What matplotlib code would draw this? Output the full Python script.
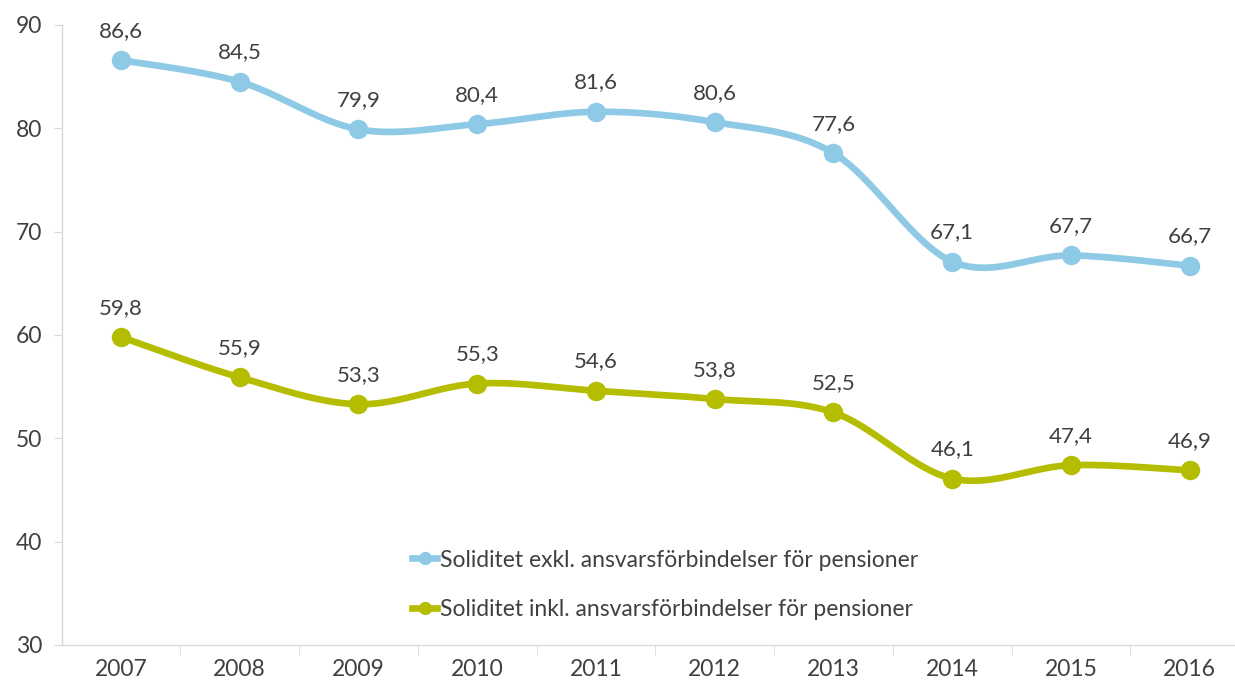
import matplotlib.pyplot as plt
import numpy as np

years = ["2007", "2008", "2009", "2010", "2011", "2012", "2013", "2014", "2015", "2016"]
exkl = [86.6, 84.5, 79.9, 80.4, 81.6, 80.6, 77.6, 67.1, 67.7, 66.7]
inkl = [59.8, 55.9, 53.3, 55.3, 54.6, 53.8, 52.5, 46.1, 47.4, 46.9]
label_exkl = "Soliditet exkl. ansvarsförbindelser för pensioner"
label_inkl = "Soliditet inkl. ansvarsförbindelser för pensioner"

BLUE = "#8ecae6"
GREEN = "#b5bd00"
TEXT = "#404040"
GRID = "#d9d9d9"

plt.rcParams["font.family"] = ["Lato", "DejaVu Sans"]


def smooth(x, y, n=40):
    # Excel-like smoothing: cubic Bezier with Catmull-Rom control points
    x = np.asarray(x, float)
    y = np.asarray(y, float)
    px = np.concatenate([[x[0]], x, [x[-1]]])
    py = np.concatenate([[y[0]], y, [y[-1]]])
    xs, ys = [], []
    t = np.linspace(0, 1, n)
    for i in range(1, len(x)):
        p0 = np.array([px[i], py[i]])
        p1 = np.array([px[i + 1], py[i + 1]])
        pm = np.array([px[i - 1], py[i - 1]])
        pp = np.array([px[i + 2], py[i + 2]])
        c1 = p0 + (p1 - pm) / 6
        c2 = p1 - (pp - p0) / 6
        b = ((1 - t) ** 3)[:, None] * p0 + (3 * (1 - t) ** 2 * t)[:, None] * c1 \
            + (3 * (1 - t) * t ** 2)[:, None] * c2 + (t ** 3)[:, None] * p1
        xs.extend(b[:, 0])
        ys.extend(b[:, 1])
    return np.array(xs), np.array(ys)


fig = plt.figure(figsize=(12.35, 6.86), dpi=100)
ax = fig.add_axes([0.0499, 0.0598, 0.9615, 0.9038])

x = np.arange(len(years))
for vals, color, label in [(exkl, BLUE, label_exkl), (inkl, GREEN, label_inkl)]:
    sx, sy = smooth(x, vals)
    ax.plot(sx, sy, color=color, lw=4.8, solid_capstyle="round", zorder=2)
    ax.plot(x, vals, "o", color=color, ms=13, zorder=3)
    ax.plot([], [], color=color, lw=4.8, marker="o", ms=8.5, label=label)
    for xi, v in zip(x, vals):
        ax.annotate(f"{v:.1f}".replace(".", ","), (xi, v), xytext=(0, 14),
                    textcoords="offset points", ha="center", va="bottom",
                    fontsize=16, color=TEXT)

ax.set_xlim(-0.5, 9.5)
ax.set_ylim(30, 90)
ax.set_yticks(range(30, 91, 10))
ax.set_xticks(x)
ax.set_xticklabels(years)
ax.set_xticks(np.arange(0.5, 9.5, 1), minor=True)

for s in ["top", "right"]:
    ax.spines[s].set_visible(False)
for s in ["left", "bottom"]:
    ax.spines[s].set_color(GRID)
    ax.spines[s].set_linewidth(1)

ax.tick_params(axis="y", length=6, color=GRID, labelsize=16.5, labelcolor=TEXT, pad=8)
ax.tick_params(axis="x", which="major", length=0, labelsize=16.5, labelcolor=TEXT, pad=10)
ax.tick_params(axis="x", which="minor", length=7, color=GRID)

leg = ax.legend(loc="center", bbox_to_anchor=(0.508, 0.097), frameon=False,
                fontsize=16.5, labelcolor=TEXT, handlelength=1.1, handletextpad=0.1,
                labelspacing=1.25)

fig.savefig("out.png", dpi=100)
